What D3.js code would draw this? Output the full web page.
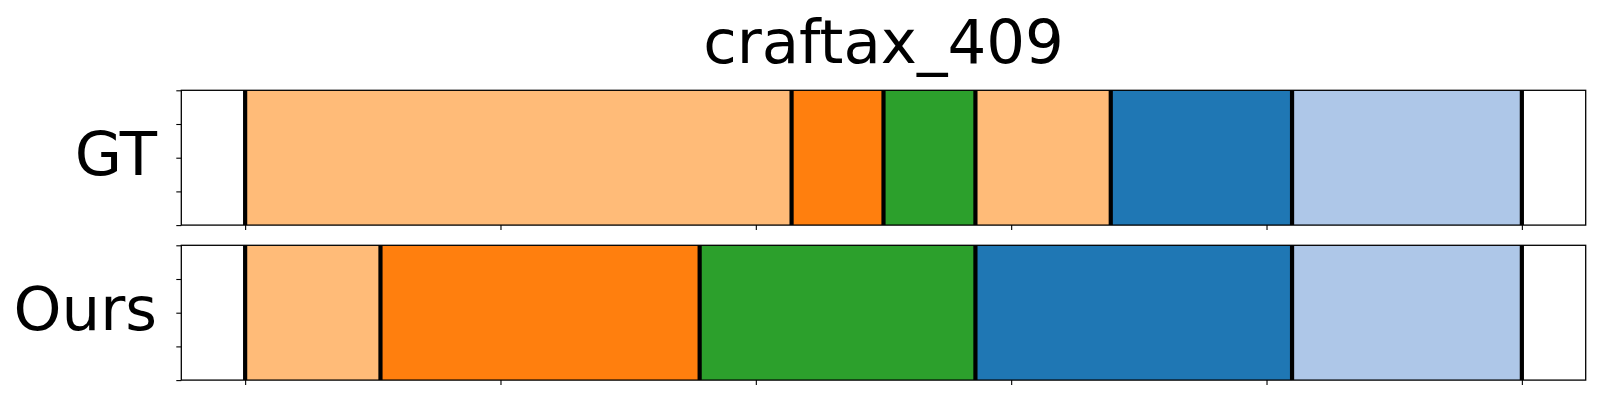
<!DOCTYPE html>
<html>
<head>
<meta charset="utf-8">
<script src="https://cdn.jsdelivr.net/npm/d3@7"></script>
<style>
  html, body { margin: 0; padding: 0; background: #fff; }
  svg { display: block; }
  text { font-family: "DejaVu Sans", sans-serif; }
</style>
</head>
<body>
<svg id="chart" width="1600" height="400"></svg>
<script>
// ---- data ----
const title = "craftax_409";
const rowLabels = ["GT", "Ours"];
// segment boundaries (frames)
const gtBounds = [0, 214, 250, 286, 339, 410, 500];
const oursBounds = [0, 53, 178, 286, 410, 500];
// class index of each segment (tab20 palette)
const gtClasses = [3, 2, 4, 3, 0, 1];
const oursClasses = [3, 2, 4, 0, 1];
const xTicks = [0, 100, 200, 300, 400, 500];
const yTicks = [0, 0.25, 0.5, 0.75, 1];
const tab20 = ["#1f77b4", "#aec7e8", "#ff7f0e", "#ffbb78", "#2ca02c", "#98df8a",
               "#d62728", "#ff9896", "#9467bd", "#c5b0d5"];

// ---- layout ----
const svg = d3.select("#chart");
const left = 181.3, right = 1585.7;
const panelTops = [90.3, 245.3];
const panelH = 134.8;

const x = d3.scaleLinear().domain([-25, 525]).range([left, right]);

const rows = [
  { label: rowLabels[0], bounds: gtBounds, classes: gtClasses },
  { label: rowLabels[1], bounds: oursBounds, classes: oursClasses }
];

svg.append("text")
  .attr("x", (left + right) / 2)
  .attr("y", 63)
  .attr("text-anchor", "middle")
  .attr("font-size", 61)
  .attr("fill", "#000")
  .text(title);

rows.forEach((row, i) => {
  const top = panelTops[i];
  const y = d3.scaleLinear().domain([0, 1]).range([top + panelH, top]);
  const g = svg.append("g");

  const segs = row.classes.map((c, k) => ({ x0: row.bounds[k], x1: row.bounds[k + 1], c }));
  g.selectAll("rect.seg").data(segs).join("rect")
    .attr("class", "seg")
    .attr("x", d => x(d.x0))
    .attr("width", d => x(d.x1) - x(d.x0))
    .attr("y", y(1))
    .attr("height", y(0) - y(1))
    .attr("fill", d => tab20[d.c]);

  g.selectAll("line.bd").data(row.bounds).join("line")
    .attr("class", "bd")
    .attr("x1", d => x(d)).attr("x2", d => x(d))
    .attr("y1", y(1)).attr("y2", y(0))
    .attr("stroke", "#000")
    .attr("stroke-width", 4.2);

  // axes
  const xa = g.append("g").attr("transform", `translate(0,${y(0)})`)
    .call(d3.axisBottom(x).tickValues(xTicks).tickFormat("").tickSize(5).tickSizeOuter(0));
  const ya = g.append("g").attr("transform", `translate(${left},0)`)
    .call(d3.axisLeft(y).tickValues(yTicks).tickFormat("").tickSize(5).tickSizeOuter(0));
  [xa, ya].forEach(a => {
    a.select(".domain").remove();
    a.selectAll(".tick line").attr("stroke", "#000").attr("stroke-width", 1.1);
  });

  g.append("rect")
    .attr("x", left).attr("y", y(1))
    .attr("width", right - left).attr("height", y(0) - y(1))
    .attr("fill", "none").attr("stroke", "#000").attr("stroke-width", 1.3);

  g.append("text")
    .attr("x", 157)
    .attr("y", (y(0) + y(1)) / 2 + 17.5)
    .attr("text-anchor", "end")
    .attr("font-size", 61)
    .attr("fill", "#000")
    .text(row.label);
});
</script>
</body>
</html>
